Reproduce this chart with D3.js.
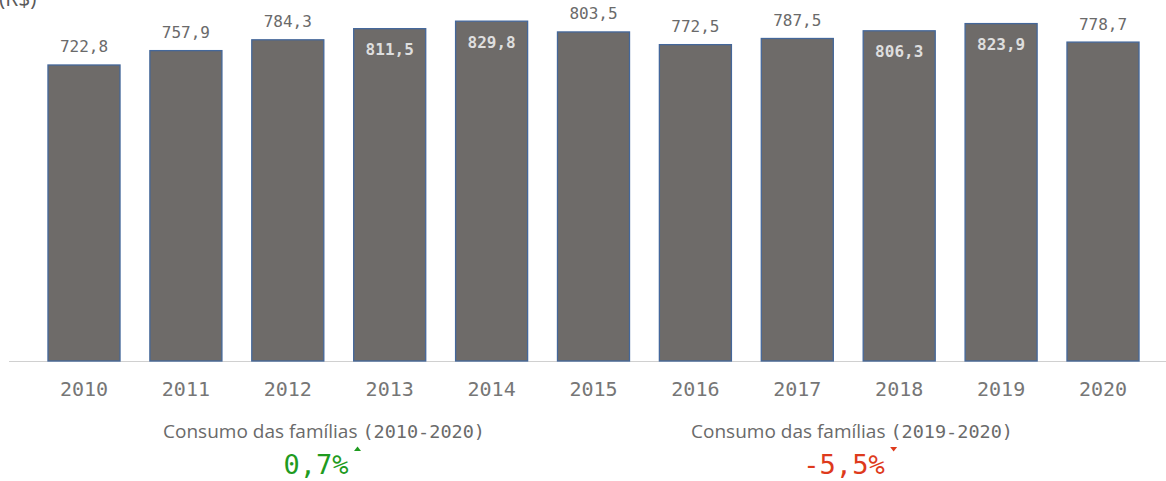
<!DOCTYPE html>
<html><head><meta charset="utf-8">
<script src="https://cdn.jsdelivr.net/npm/d3@7"></script>
<style>
html,body{margin:0;padding:0;background:#fff;overflow:hidden}
svg{display:block}
</style></head>
<body>
<svg id="chart" width="1166" height="481"></svg>
<script>
const years = ["2010","2011","2012","2013","2014","2015","2016","2017","2018","2019","2020"];
const values = [722.8,757.9,784.3,811.5,829.8,803.5,772.5,787.5,806.3,823.9,778.7];
const unitLabel = "(R$)";
const kpiTitles = ["Consumo das famílias ", "Consumo das famílias "];
const kpiPeriods = ["(2010-2020)", "(2019-2020)"];
const kpiValues = [0.7, -5.5];

const fmt = v => v.toFixed(1).replace(".", ",");
const svg = d3.select("#chart");
const mono = "'DejaVu Sans Mono', monospace";
const sans = "'Open Sans', 'Noto Sans', sans-serif";

const baseY = 361;
const x = d3.scaleBand().domain(years).range([33.05, 1153.95]).paddingInner(0.293).paddingOuter(0.1465);
const y = d3.scaleLinear().domain([0, 881.5]).range([baseY, 0]);

// unit label (partially cut at top, as in the reference)
svg.append("text").attr("x", -1).attr("y", 6).attr("font-family", sans).attr("font-size", 21)
  .attr("fill", "#595959").text(unitLabel);

// baseline
svg.append("line").attr("x1", 9).attr("x2", 1166).attr("y1", baseY + 0.5).attr("y2", baseY + 0.5)
  .attr("stroke", "#d0d0d0").attr("stroke-width", 1);

const data = years.map((yr, i) => ({yr, v: values[i]}));
const inside = d => y(d.v) < 31.5;

svg.append("g").selectAll("rect").data(data).join("rect")
  .attr("x", d => x(d.yr)).attr("width", x.bandwidth())
  .attr("y", d => y(d.v)).attr("height", d => baseY - y(d.v))
  .attr("fill", "#6e6b69").attr("stroke", "#44679a").attr("stroke-width", 1.3);

svg.append("g").selectAll("text").data(data).join("text")
  .attr("x", d => x(d.yr) + x.bandwidth() / 2)
  .attr("y", d => inside(d) ? y(d.v) + 26.5 : y(d.v) - 12.5)
  .attr("text-anchor", "middle")
  .attr("font-family", mono).attr("font-size", 16)
  .attr("font-weight", d => inside(d) ? "600" : "normal")
  .attr("fill", d => inside(d) ? "#dedede" : "#6a6a6a")
  .text(d => fmt(d.v));

// x axis labels
const ax = svg.append("g").attr("transform", `translate(0,${baseY})`)
  .call(d3.axisBottom(x).tickSize(0).tickPadding(0));
ax.select(".domain").remove();
ax.selectAll("text").attr("y", 35).attr("dy", 0).attr("font-family", mono).attr("font-size", 20)
  .attr("fill", "#767676");

// KPIs
const kpiCenters = [324, 852];
kpiValues.forEach((v, i) => {
  const cx = kpiCenters[i];
  const t = svg.append("text").attr("x", cx).attr("y", 438).attr("text-anchor", "middle")
    .attr("fill", "#6a6a6a").attr("font-size", 19);
  t.append("tspan").attr("font-family", sans).text(kpiTitles[i]);
  t.append("tspan").attr("font-family", mono).attr("font-size", 18.5).text(kpiPeriods[i]);
  const up = v >= 0;
  const col = up ? "#1f9b1f" : "#de3a1c";
  const valText = (v < 0 ? "-" : "") + fmt(Math.abs(v)) + "%";
  const vt = svg.append("text").attr("x", cx - 8).attr("y", 474).attr("text-anchor", "middle")
    .attr("font-family", mono).attr("font-size", 27).attr("fill", col).text(valText);
  const bb = vt.node().getBBox();
  const tx = bb.x + bb.width + 9, ty = 449;
  const tri = up ? `M${tx-3.5},${ty+2}L${tx+3.5},${ty+2}L${tx},${ty-2.5}Z`
                 : `M${tx-3.5},${ty-2}L${tx+3.5},${ty-2}L${tx},${ty+2.5}Z`;
  svg.append("path").attr("d", tri).attr("fill", col);
});
</script>
</body></html>
